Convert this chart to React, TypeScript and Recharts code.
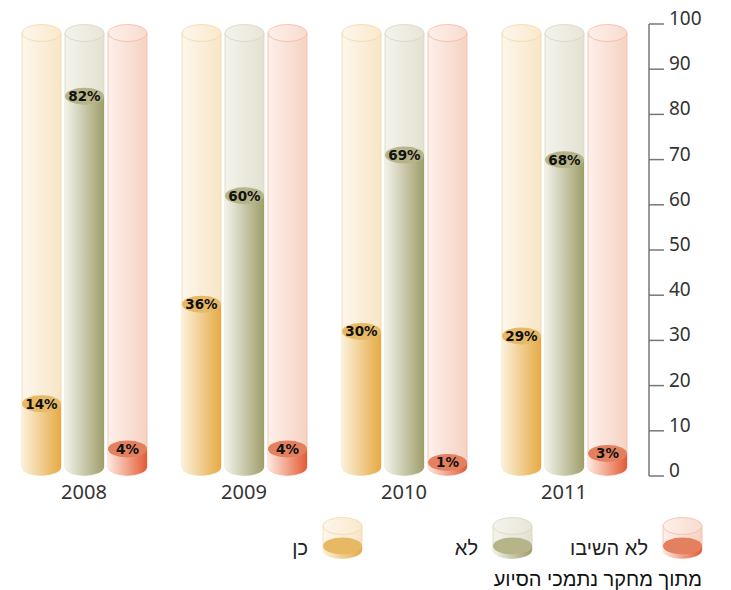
import React from 'react';
import { BarChart, Bar, XAxis, YAxis } from 'recharts';

const years = ['2008', '2009', '2010', '2011'];
const yesValues = [14, 36, 30, 29];
const noValues = [82, 60, 69, 68];
const noAnswerValues = [4, 4, 1, 3];
const seriesNames = ['כן', 'לא', 'לא השיבו'];
const seriesKeys = ['yes', 'no', 'noAnswer'];
const yTicks = [0, 10, 20, 30, 40, 50, 60, 70, 80, 90, 100];
const sourceNote = 'מתוך מחקר נתמכי הסיוע';

const palettes = [
  { tubeL: '#fdf7ec', tubeR: '#f8e5c6', tubeStroke: '#f3d8a8', topL: '#fdf6ea', topR: '#fae9cd', fillL: '#fcf0da', fillR: '#e5aa44', surface: '#e8b964' },
  { tubeL: '#f4f3ec', tubeR: '#e3e1d1', tubeStroke: '#d7d5c0', topL: '#f4f3ec', topR: '#e8e6d8', fillL: '#f2f2ea', fillR: '#9f9e6a', surface: '#b7b489' },
  { tubeL: '#fdf0ea', tubeR: '#f6d2c3', tubeStroke: '#f1baa5', topL: '#fdf0ea', topR: '#f8dccf', fillL: '#fde8df', fillR: '#e35c36', surface: '#e3805f' },
];

const data = years.map((year, i) => ({
  year,
  yes: yesValues[i],
  no: noValues[i],
  noAnswer: noAnswerValues[i],
}));

const RY = 8.5;
const LIFT = 9;
const HEB_FONT = '"Liberation Sans", "DejaVu Sans", sans-serif';
const NUM_FONT = '"Noto Sans", "Open Sans", sans-serif';

function tubePath(x: number, top: number, bot: number, w: number) {
  const rx = w / 2;
  return `M${x},${top} L${x},${bot} A${rx},${RY} 0 0 0 ${x + w},${bot} L${x + w},${top} Z`;
}

function Tube(props: any) {
  const { x, y, width, height, idx } = props;
  const p = palettes[idx];
  const top = y + LIFT;
  const bot = y + height - LIFT;
  return (
    <g>
      <path d={tubePath(x, top, bot, width)} fill={`url(#tube${idx})`} stroke={p.tubeStroke} strokeWidth={0.8} />
      <ellipse cx={x + width / 2} cy={top} rx={width / 2} ry={RY} fill={`url(#top${idx})`} stroke={p.tubeStroke} strokeWidth={0.8} />
    </g>
  );
}

function Cyl(props: any) {
  const { x, y, width, height, idx, seriesKey, payload } = props;
  const p = palettes[idx];
  const top = y - LIFT;
  const bot = y + height - LIFT;
  const v = payload[seriesKey];
  return (
    <g>
      <path d={tubePath(x, top, bot, width)} fill={`url(#fill${idx})`} />
      <ellipse cx={x + width / 2} cy={top} rx={width / 2} ry={RY} fill={p.surface} />
      <text
        x={x + width / 2}
        y={top}
        dy="0.37em"
        textAnchor="middle"
        fontFamily='"DejaVu Sans", sans-serif'
        fontWeight="bold"
        fontSize={13.5}
        fill="#111"
      >
        {`${v}%`}
      </text>
    </g>
  );
}

const XTick = (props: any) => {
  const { x, y, payload } = props;
  return (
    <text x={x} y={y} dy={23} textAnchor="middle" fontFamily={NUM_FONT} fontSize={20} fill="#333">
      {payload.value}
    </text>
  );
};

const YTick = (props: any) => {
  const { x, y, payload } = props;
  return (
    <text x={x} y={y} dy={1} textAnchor="start" fontFamily={NUM_FONT} fontSize={19} fill="#333">
      {payload.value}
    </text>
  );
};

function LegendSvg() {
  const w = 39;
  return (
    <svg width={731} height={590} style={{ position: 'absolute', left: 0, top: 0, pointerEvents: 'none' }}>
      {seriesNames.map((name, i) => {
        const p = palettes[i];
        const cx0 = 323 + 170 * i;
        const topC = 526;
        const botC = 550;
        const surf = 546;
        return (
          <g key={name}>
            <path d={tubePath(cx0, topC, botC, w)} fill={`url(#ltube${i})`} stroke={p.tubeStroke} strokeWidth={0.8} />
            <path d={tubePath(cx0, surf, botC, w)} fill={`url(#lfill${i})`} />
            <ellipse cx={cx0 + w / 2} cy={surf} rx={w / 2} ry={RY} fill={p.surface} />
            <ellipse cx={cx0 + w / 2} cy={topC} rx={w / 2} ry={RY} fill={`url(#ltop${i})`} stroke={p.tubeStroke} strokeWidth={0.8} />
            <text x={cx0 - 15} y={555} textAnchor="end" fontFamily={HEB_FONT} fontSize={20} fill="#222">
              {name}
            </text>
          </g>
        );
      })}
      <defs>
        {palettes.map((p, i) => (
          <React.Fragment key={i}>
            <linearGradient id={`ltube${i}`} x1="0" y1="0" x2="1" y2="0">
              <stop offset="0%" stopColor={p.tubeL} />
              <stop offset="100%" stopColor={p.tubeR} />
            </linearGradient>
            <linearGradient id={`ltop${i}`} x1="0" y1="0" x2="1" y2="0">
              <stop offset="0%" stopColor={p.topL} />
              <stop offset="100%" stopColor={p.topR} />
            </linearGradient>
            <linearGradient id={`lfill${i}`} x1="0" y1="0" x2="1" y2="0">
              <stop offset="0%" stopColor={p.fillL} />
              <stop offset="100%" stopColor={p.fillR} />
            </linearGradient>
          </React.Fragment>
        ))}
      </defs>
      <text x={702} y={586} textAnchor="end" fontFamily={HEB_FONT} fontSize={20} fill="#111">
        {sourceNote}
      </text>
    </svg>
  );
}

export default function App() {
  return (
    <div style={{ position: 'absolute', left: 0, top: 0, width: 731, height: 590, background: '#fff' }}>
      <BarChart
        width={731}
        height={590}
        data={data}
        margin={{ top: 24, right: 22, left: 4, bottom: 84 }}
        barCategoryGap={18}
        barGap={4}
      >
        <defs>
          {palettes.map((p, i) => (
            <React.Fragment key={i}>
              <linearGradient id={`tube${i}`} x1="0" y1="0" x2="1" y2="0">
                <stop offset="0%" stopColor={p.tubeL} />
                <stop offset="100%" stopColor={p.tubeR} />
              </linearGradient>
              <linearGradient id={`top${i}`} x1="0" y1="0" x2="1" y2="0">
                <stop offset="0%" stopColor={p.topL} />
                <stop offset="100%" stopColor={p.topR} />
              </linearGradient>
              <linearGradient id={`fill${i}`} x1="0" y1="0" x2="1" y2="0">
                <stop offset="0%" stopColor={p.fillL} />
                <stop offset="100%" stopColor={p.fillR} />
              </linearGradient>
            </React.Fragment>
          ))}
        </defs>
        <XAxis
          dataKey="year"
          axisLine={false}
          tickLine={false}
          tickSize={0}
          tickMargin={0}
          height={30}
          padding={{ left: 0, right: 5 }}
          tick={<XTick />}
          interval={0}
        />
        <YAxis
          orientation="right"
          domain={[0, 100]}
          ticks={yTicks}
          width={60}
          tickSize={15}
          tickMargin={5}
          axisLine={{ stroke: '#777', strokeWidth: 1.5 }}
          tickLine={{ stroke: '#777', strokeWidth: 1.5 }}
          tick={<YTick />}
          interval={0}
        />
        {seriesKeys.map((k, i) => (
          <Bar
            key={k}
            dataKey={k}
            name={seriesNames[i]}
            isAnimationActive={false}
            background={(bp: any) => <Tube key={`bg-${k}-${bp.index}`} {...bp} idx={i} />}
            shape={(sp: any) => <Cyl {...sp} idx={i} seriesKey={k} />}
          />
        ))}
      </BarChart>
      <LegendSvg />
    </div>
  );
}
